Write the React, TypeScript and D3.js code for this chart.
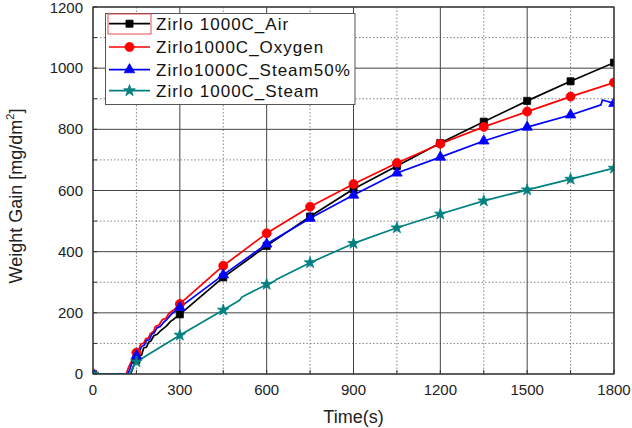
import React from "react";
import * as d3 from "d3";

const xTicks = [0, 300, 600, 900, 1200, 1500, 1800];
const xMinor = [150, 450, 750, 1050, 1350, 1650];
const yTicks = [0, 200, 400, 600, 800, 1000, 1200];
const yMinor = [100, 300, 500, 700, 900, 1100];
const markerTimes = [0, 150, 300, 450, 600, 750, 900, 1050, 1200, 1350, 1500, 1650, 1800];

const airT = [0, 130, 140, 150, 160, 168, 175, 185, 192, 200, 210, 222, 232, 245, 255, 268, 280, 300, 450, 600, 750, 900, 1050, 1200, 1350, 1500, 1650, 1800];
const airV = [0, 0, 25, 46, 62, 62, 85, 88, 104, 108, 125, 130, 140, 150, 158, 172, 180, 195, 316, 419, 515, 605, 680, 755, 825, 893, 957, 1018];

const oxyT = [0, 115, 122, 132, 140, 150, 158, 165, 175, 182, 192, 198, 210, 215, 228, 240, 252, 262, 280, 300, 450, 600, 750, 900, 1050, 1200, 1350, 1500, 1650, 1800];
const oxyV = [0, 0, 20, 40, 55, 70, 78, 98, 100, 115, 118, 132, 140, 155, 160, 178, 182, 198, 210, 229, 354, 460, 547, 621, 690, 753, 808, 858, 907, 953];

const st50T = [0, 120, 127, 135, 142, 150, 160, 168, 178, 185, 195, 203, 212, 220, 232, 245, 255, 270, 300, 450, 600, 750, 900, 1050, 1200, 1350, 1500, 1650, 1755, 1760, 1775, 1800];
const st50V = [0, 0, 15, 38, 50, 60, 72, 90, 95, 110, 112, 130, 135, 150, 155, 170, 178, 195, 218, 324, 425, 509, 585, 657, 709, 762, 807, 847, 880, 896, 892, 885];

const steamT = [0, 127, 140, 150, 300, 450, 505, 515, 600, 625, 635, 750, 900, 1050, 1200, 1350, 1500, 1650, 1800];
const steamV = [0, 0, 25, 40, 127, 209, 240, 252, 293, 302, 310, 364, 427, 478, 523, 566, 602, 637, 673];

const seriesNames = ["Zirlo 1000C_Air", "Zirlo1000C_Oxygen", "Zirlo1000C_Steam50%", "Zirlo 1000C_Steam"];
const seriesColors = ["#000000", "#ff0000", "#0000ff", "#008080"];

const W = 632, H = 428;
const L = 93, R = 614, T = 7, B = 374;
const x = d3.scaleLinear().domain([0, 1800]).range([L, R]);
const y = d3.scaleLinear().domain([0, 1200]).range([B, T]);
const FONT = "'Liberation Sans', Arial, sans-serif";

const seriesData = [
  { t: airT, v: airV, sym: d3.symbolSquare, size: 50 },
  { t: oxyT, v: oxyV, sym: d3.symbolCircle, size: 64 },
  { t: st50T, v: st50V, sym: d3.symbolTriangle, size: 48 },
  { t: steamT, v: steamV, sym: d3.symbolStar, size: 42 },
];

const line = d3.line<[number, number]>().x((d) => x(d[0])).y((d) => y(d[1]));

export default function App() {
  return (
    <svg width={W} height={H} style={{ position: "absolute", left: 0, top: 0, background: "#fff" }}>
      <defs>
        <clipPath id="plotClip">
          <rect x={L} y={T} width={R - L} height={B - T} />
        </clipPath>
      </defs>
      <rect x={0} y={0} width={W} height={H} fill="#fff" />
      {xMinor.map((t) => (
        <line key={"xm" + t} x1={x(t)} x2={x(t)} y1={T} y2={B} stroke="#666" strokeWidth={0.8} strokeDasharray="1.5,2" />
      ))}
      {yMinor.map((v) => (
        <line key={"ym" + v} x1={L} x2={R} y1={y(v)} y2={y(v)} stroke="#666" strokeWidth={0.8} strokeDasharray="1.5,2" />
      ))}
      {xTicks.map((t) => (
        <line key={"xg" + t} x1={x(t)} x2={x(t)} y1={T} y2={B} stroke="#444" strokeWidth={1} />
      ))}
      {yTicks.map((v) => (
        <line key={"yg" + v} x1={L} x2={R} y1={y(v)} y2={y(v)} stroke="#444" strokeWidth={1} />
      ))}
      <g clipPath="url(#plotClip)">
        {seriesData.map((s, i) => {
          const pts: [number, number][] = s.t.map((t, j) => [t, s.v[j]]);
          return (
            <path key={"l" + i} d={line(pts) || ""} fill="none" stroke={seriesColors[i]} strokeWidth={1.7} strokeLinejoin="round" />
          );
        })}
        {seriesData.map((s, i) => {
          const path = d3.symbol().type(s.sym).size(s.size)() || "";
          return (
            <g key={"m" + i}>
              {markerTimes.map((t) => {
                const j = s.t.indexOf(t);
                if (j < 0) return null;
                return (
                  <path key={t} d={path} transform={`translate(${x(t)},${y(s.v[j])})`} fill={seriesColors[i]} stroke={seriesColors[i]} strokeWidth={0.8} />
                );
              })}
            </g>
          );
        })}
      </g>
      <rect x={L} y={T} width={R - L} height={B - T} fill="none" stroke="#333" strokeWidth={1.2} />
      {[...xTicks, ...xMinor].map((t) => (
        <line key={"xt" + t} x1={x(t)} x2={x(t)} y1={B} y2={B - 4} stroke="#333" />
      ))}
      {[...yTicks, ...yMinor].map((v) => (
        <line key={"yt" + v} x1={L} x2={L + 4} y1={y(v)} y2={y(v)} stroke="#333" />
      ))}
      {xTicks.map((t) => (
        <text key={"xl" + t} x={x(t)} y={395} textAnchor="middle" fontFamily={FONT} fontSize={15} fill="#222">
          {t}
        </text>
      ))}
      {yTicks.map((v) => (
        <text key={"yl" + v} x={83} y={Math.max(y(v) + 5, 13)} textAnchor="end" fontFamily={FONT} fontSize={15} fill="#222">
          {v}
        </text>
      ))}
      <text x={(L + R) / 2} y={423} textAnchor="middle" fontFamily={FONT} fontSize={18} fill="#222">
        Time(s)
      </text>
      <text transform={`translate(22,196) rotate(-90)`} textAnchor="middle" fontFamily={FONT} fontSize={18} fill="#222">
        Weight Gain [mg/dm<tspan fontSize={11} dy={-8}>2</tspan><tspan dy={8}>]</tspan>
      </text>
      <rect x={105.5} y={13.5} width={249.5} height={91} fill="#fff" stroke="#555" strokeWidth={1} />
      <rect x={108} y={14} width={43} height={20} fill="none" stroke="#e05050" strokeWidth={1} />
      {seriesNames.map((n, i) => {
        const cy = [23.7, 47, 69.7, 90.7][i];
        const s = seriesData[i];
        const path = d3.symbol().type(s.sym).size(s.size)() || "";
        return (
          <g key={"lg" + i}>
            <line x1={109} x2={150} y1={cy} y2={cy} stroke={seriesColors[i]} strokeWidth={1.7} />
            <path d={path} transform={`translate(129.5,${cy})`} fill={seriesColors[i]} stroke={seriesColors[i]} strokeWidth={0.8} />
            <text x={156} y={cy + 6} fontFamily={FONT} fontSize={17} letterSpacing={1} fill="#111">
              {n}
            </text>
          </g>
        );
      })}
    </svg>
  );
}
